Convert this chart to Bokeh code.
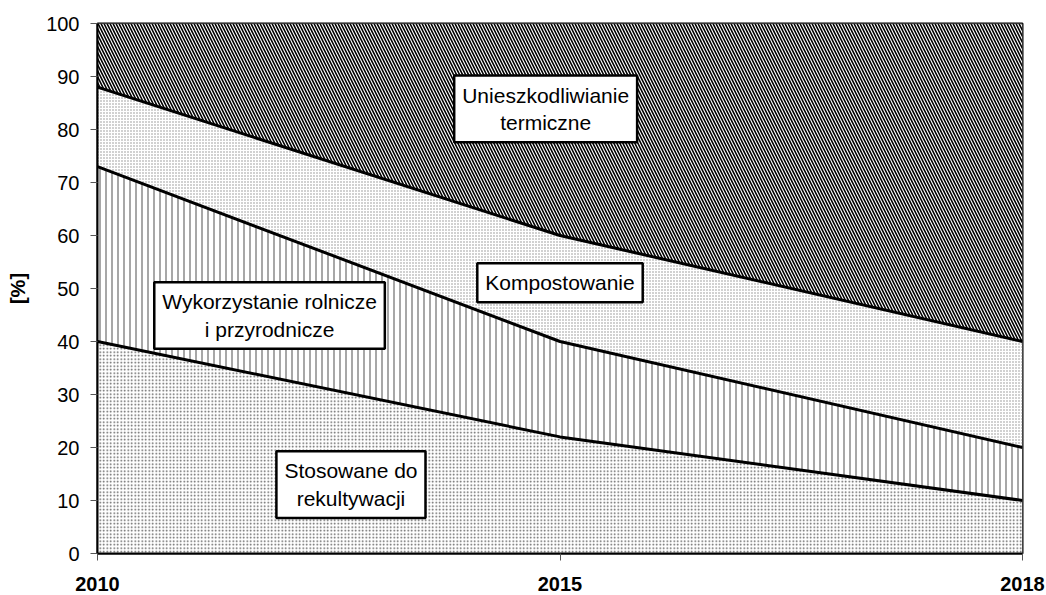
import numpy as np
from bokeh.plotting import figure
from bokeh.models import Range1d, FixedTicker, Label
from bokeh.embed import file_html
from bokeh.resources import INLINE

# ---- data ----
years = ["2010", "2015", "2018"]
stosowane = [40, 22, 10]          # Stosowane do rekultywacji
wykorzystanie = [33, 18, 10]      # Wykorzystanie rolnicze i przyrodnicze
kompostowanie = [15, 20, 20]      # Kompostowanie
unieszkodliwianie = [12, 40, 60]  # Unieszkodliwianie termiczne
y_ticks = list(range(0, 101, 10))

FONT = "Liberation Sans"

xs = list(range(len(years)))
layers = [stosowane, wykorzystanie, kompostowanie, unieszkodliwianie]
cum = np.cumsum(np.array(layers, dtype=float), axis=0)
bottoms = np.vstack([np.zeros(len(years)), cum[:-1]])

p = figure(width=1046, height=595, output_backend="svg", toolbar_location=None,
           x_range=Range1d(0, len(years) - 1), y_range=Range1d(0, 100),
           min_border_left=97, min_border_right=24, min_border_top=23, min_border_bottom=42)
p.grid.visible = False
p.background_fill_color = "white"
p.outline_line_color = "black"
p.outline_line_width = 2

styles = [
    dict(hatch_pattern=".", hatch_color="#5a5a5a", hatch_scale=3.5, hatch_weight=1.6),
    dict(hatch_pattern="|", hatch_color="#8a8a8a", hatch_scale=6, hatch_weight=1.5),
    dict(hatch_pattern=".", hatch_color="#8c8c8c", hatch_scale=3, hatch_weight=1.3),
    dict(hatch_pattern="\\", hatch_color="black", hatch_scale=6, hatch_weight=1.6),
]
for i, st in enumerate(styles):
    p.varea(x=xs, y1=list(bottoms[i]), y2=list(cum[i]), fill_color="white", **st)

for i in range(len(layers) - 1):
    p.line(xs, list(cum[i]), line_color="black", line_width=3)

# axes
p.xaxis.ticker = FixedTicker(ticks=xs)
p.xaxis.major_label_overrides = {i: y for i, y in enumerate(years)}
p.xaxis.major_label_text_font = FONT
p.xaxis.major_label_text_font_style = "bold"
p.xaxis.major_label_text_font_size = "20px"
p.xaxis.major_label_text_color = "black"
p.xaxis.major_label_standoff = 16

p.yaxis.ticker = FixedTicker(ticks=y_ticks)
p.yaxis.major_label_text_font = FONT
p.yaxis.major_label_text_font_size = "20px"
p.yaxis.major_label_text_color = "black"
p.yaxis.major_label_standoff = 11
p.yaxis.axis_label = "[%]"
p.yaxis.axis_label_text_font = FONT
p.yaxis.axis_label_text_font_style = "bold"
p.yaxis.axis_label_text_font_size = "20px"
p.yaxis.axis_label_text_color = "black"
p.yaxis.axis_label_standoff = 14

for ax in (p.xaxis, p.yaxis):
    ax.axis_line_color = "black"
    ax.axis_line_width = 2
    ax.major_tick_in = 0
    ax.major_tick_out = 7
    ax.major_tick_line_color = "#555555"
    ax.major_tick_line_width = 1
    ax.minor_tick_line_color = None

labels = [
    ("Unieszkodliwianie\ntermiczne", 0.969, 83.9),
    ("Kompostowanie", 1.0, 51.1),
    ("Wykorzystanie rolnicze\ni przyrodnicze", 0.372, 44.9),
    ("Stosowane do\nrekultywacji", 0.548, 13.0),
]
for txt, lx, ly in labels:
    p.add_layout(Label(x=lx, y=ly, text=txt, text_align="center", text_baseline="middle",
                       text_font=FONT, text_font_size="21px", text_color="black",
                       text_line_height=1.2,
                       background_fill_color="white", border_line_color="black",
                       border_line_width=2.5, padding=8))

open("out.html", "w").write(file_html(p, INLINE))
